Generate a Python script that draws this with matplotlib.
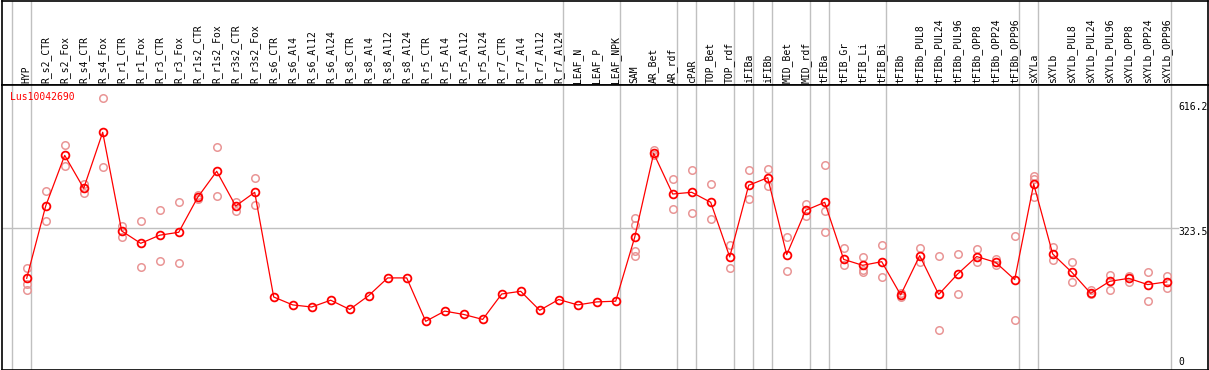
import matplotlib
matplotlib.use("Agg")
import matplotlib.pyplot as plt

samples = ["HYP", "R_s2_CTR", "R_s2_Fox", "R_s4_CTR", "R_s4_Fox", "R_r1_CTR", "R_r1_Fox",
           "R_r3_CTR", "R_r3_Fox", "R_r1s2_CTR", "R_r1s2_Fox", "R_r3s2_CTR", "R_r3s2_Fox",
           "R_s6_CTR", "R_s6_Al4", "R_s6_Al12", "R_s6_Al24", "R_s8_CTR", "R_s8_Al4",
           "R_s8_Al12", "R_s8_Al24", "R_r5_CTR", "R_r5_Al4", "R_r5_Al12", "R_r5_Al24",
           "R_r7_CTR", "R_r7_Al4", "R_r7_Al12", "R_r7_Al24", "LEAF_N", "LEAF_P", "LEAF_NPK",
           "SAM", "AR_Bet", "AR_rdf", "cPAR", "TOP_Bet", "TOP_rdf", "iFIBa", "iFIBb",
           "MID_Bet", "MID_rdf", "tFIBa", "tFIB_Gr", "tFIB_Li", "tFIB_Bi", "tFIBb",
           "tFIBb_PUL8", "tFIBb_PUL24", "tFIBb_PUL96", "tFIBb_OPP8", "tFIBb_OPP24",
           "tFIBb_OPP96", "sXYLa", "sXYLb", "sXYLb_PUL8", "sXYLb_PUL24", "sXYLb_PUL96",
           "sXYLb_OPP8", "sXYLb_OPP24", "sXYLb_OPP96"]

mean_vals = [206.8, 375.7, 494, 417, 547.9, 317.3, 288.5, 307.5, 314.3, 396, 456.8, 375.7, 407.7,
             163.1, 144.6, 139.7, 155.6, 134, 166.4, 207.7, 207.7, 106.3, 130.1, 122.3, 110.7,
             170.1, 176.4, 132, 157.2, 144.6, 151.6, 153.3,
             302.6, 498.7, 403.7, 407.7, 384.3, 256.8, 424.1, 441.8, 262.1, 365.6, 384.3,
             250.9, 237.1, 245.6, 167.9, 259.7, 169, 217, 257.6, 244, 203.7, 427.1, 263.6,
             221.1, 171.7, 199.7, 206.7, 192.1, 198.4]

replicates = [[230, 193, 179], [410.7, 339.9], [517.5, 469.2], [427, 406.8], [627.3, 466],
              [329, 304], [341, 232.5], [365.6, 246.5], [384.3, 242.5], [401.4, 391],
              [512.8, 398.4], [385.8, 364.7], [440.4, 377.3],
              [], [], [], [], [], [], [], [], [], [], [], [], [], [], [], [], [], [], [],
              [348.4, 330.6, 271.4, 259.7], [506.5, 494], [438, 368], [459, 358.6],
              [426.4, 344.6], [284.8, 231], [459, 391.4], [461.4, 423.1], [302.6, 223.1],
              [380.1, 352.1], [470.8, 364.7, 314.3], [278.2, 237.9], [256.8, 221.1, 226],
              [284.8, 209], [171.5, 164], [277, 245.6], [258.9, 86.4], [263.6, 170.1],
              [275, 244], [251, 237.9], [305.4, 109.4], [446.7, 438, 397.4], [279.4, 248.4],
              [244.9, 197.7], [178.7, 169], [215.4, 178.7], [212.1, 198.9], [221.1, 152.9],
              [212.1, 183.2]]

group_ends = [-1, 0, 28, 31, 34, 35, 37, 38, 39, 41, 42, 45, 52, 53, 60]
gene_name = "Lus10042690"
ytick_vals = [616.2, 323.5, 0]
ytick_labels = ["616.2", "323.5", "0"]

W, H = 1209, 370
fig = plt.figure(figsize=(W / 100, H / 100), dpi=100)
FONT = "DejaVu Sans Mono"
FS = 7

x0px, x1px = 1.5, 1208
col0, step = 26.7, 19.0
xlo = (x0px - col0) / step
xhi = (x1px - col0) / step

# header axes (pixel y coords)
hdr_top, hdr_bot = 0.5, 85
axh = fig.add_axes([x0px / W, (H - hdr_bot) / H, (x1px - x0px) / W, (hdr_bot - hdr_top) / H])
axh.set_xlim(xlo, xhi)
axh.set_ylim(hdr_bot, hdr_top)
axh.set_xticks([]); axh.set_yticks([])
for s in axh.spines.values():
    s.set_color("black"); s.set_linewidth(1.2)
for i, name in enumerate(samples):
    axh.text(i, 83, name, rotation=90, ha="center", va="bottom", fontsize=FS,
             family=FONT, color="black")
for g in group_ends:
    axh.axvline(g + 0.21, color="#c0c0c0", lw=1.0, zorder=0)

# main axes
y_zero_px, px_per_unit = 366.8, 0.428
top_px, bot_px = 85, 369.5
ylo = (y_zero_px - bot_px) / px_per_unit
yhi = (y_zero_px - top_px) / px_per_unit
ax = fig.add_axes([x0px / W, (H - bot_px) / H, (x1px - x0px) / W, (bot_px - top_px) / H])
ax.set_xlim(xlo, xhi)
ax.set_ylim(ylo, yhi)
ax.set_xticks([]); ax.set_yticks([])
for s in ax.spines.values():
    s.set_color("black"); s.set_linewidth(1.2)

for g in group_ends:
    ax.axvline(g + 0.21, color="#c0c0c0", lw=1.0, zorder=0)
ax.plot([xlo, (1178 - col0) / step], [323.5, 323.5], color="#c0c0c0", lw=1.0, zorder=0)

# replicates
rx, ry = [], []
for i, reps in enumerate(replicates):
    for v in reps:
        rx.append(i); ry.append(v)
ax.plot(rx, ry, linestyle="none", marker="o", markersize=5.4, markerfacecolor="none",
        markeredgecolor="#e99595", markeredgewidth=1.1, zorder=2)

xs = list(range(len(samples)))
ax.plot(xs, mean_vals, color="#ff0000", lw=0.9, zorder=3)
ax.plot(xs, mean_vals, linestyle="none", marker="o", markersize=5.6, markerfacecolor="none",
        markeredgecolor="#ff0000", markeredgewidth=1.3, zorder=4)

ax.text((10 - col0) / step, (y_zero_px - 97) / px_per_unit, gene_name, color="#ff0000",
        fontsize=FS, family=FONT, ha="left", va="center")

offsets = [-2.9, -2.9, 3.6]
for v, lab, off in zip(ytick_vals, ytick_labels, offsets):
    ax.annotate(lab, xy=((1178 - col0) / step, v), xytext=(0, off), textcoords="offset points",
                ha="left", va="center", fontsize=FS, family=FONT, color="black")

fig.savefig("out.png", dpi=100)
